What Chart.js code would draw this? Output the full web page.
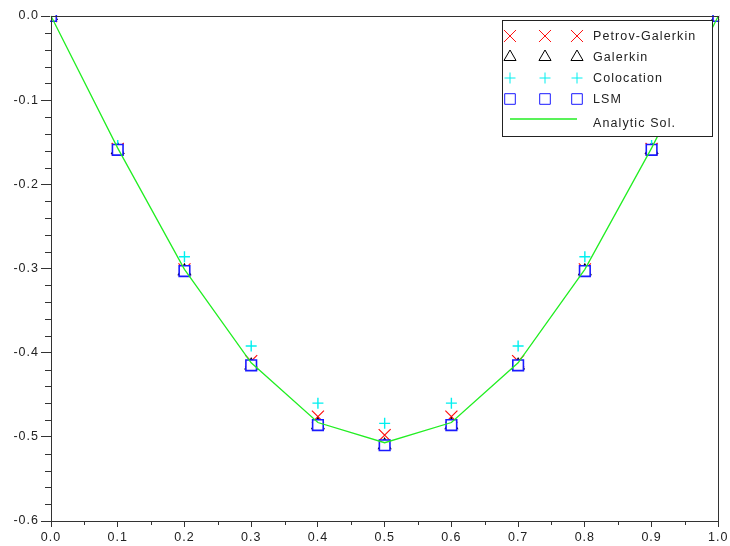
<!DOCTYPE html>
<html>
<head>
<meta charset="utf-8">
<script src="https://cdn.jsdelivr.net/npm/chart.js@4.4.1/dist/chart.umd.min.js"></script>
<style>
  html, body { margin: 0; padding: 0; background: #ffffff; }
  #wrap { width: 730px; height: 546px; }
</style>
</head>
<body>
<div id="wrap"><canvas id="c" width="730" height="546"></canvas></div>
<script>
// ---- data ----
const xValues = [0.0, 0.1, 0.2, 0.3, 0.4, 0.5, 0.6, 0.7, 0.8, 0.9, 1.0];
const petrovGalerkin = [0, -0.158, -0.301, -0.410, -0.476, -0.498, -0.476, -0.410, -0.301, -0.158, 0];
const galerkin       = [0, -0.159, -0.303, -0.415, -0.486, -0.510, -0.486, -0.415, -0.303, -0.159, 0];
const colocation     = [0, -0.154, -0.286, -0.392, -0.460, -0.484, -0.460, -0.392, -0.286, -0.154, 0];
const lsm            = [0, -0.159, -0.303, -0.415, -0.486, -0.510, -0.486, -0.415, -0.303, -0.159, 0];
const analytic       = [0, -0.157, -0.301, -0.412, -0.483, -0.507, -0.483, -0.412, -0.301, -0.157, 0];
const seriesLabels = ['Petrov-Galerkin', 'Galerkin', 'Colocation', 'LSM', 'Analytic Sol.'];
const xTickValues = [0.0, 0.1, 0.2, 0.3, 0.4, 0.5, 0.6, 0.7, 0.8, 0.9, 1.0];
const yTickValues = [0.0, -0.1, -0.2, -0.3, -0.4, -0.5, -0.6];

function pts(ys) { return xValues.map((x, i) => ({ x: x, y: ys[i] })); }

const AXIS = '#333333';
const FONT = '"Liberation Sans", Arial, sans-serif';

const spacing = {
  id: 'spacing',
  beforeDraw(chart) { try { chart.ctx.letterSpacing = '1px'; } catch (e) {} }
};

const frameAndMinor = {
  id: 'frameAndMinor',
  afterDraw(chart) {
    const ctx = chart.ctx, a = chart.chartArea;
    const xs = chart.scales.x, ys = chart.scales.y;
    ctx.save();
    ctx.strokeStyle = AXIS;
    ctx.lineWidth = 1;
    ctx.strokeRect(Math.round(a.left) + 0.5, Math.round(a.top) + 0.5,
                   Math.round(a.right - a.left), Math.round(a.bottom - a.top));
    ctx.beginPath();
    for (let i = 0; i < xTickValues.length - 1; i++) {
      const px = Math.round(xs.getPixelForValue((xTickValues[i] + xTickValues[i + 1]) / 2)) + 0.5;
      ctx.moveTo(px, a.bottom); ctx.lineTo(px, a.bottom + 4);
    }
    for (let i = 0; i < yTickValues.length - 1; i++) {
      for (let k = 1; k < 5; k++) {
        const v = yTickValues[i] + (yTickValues[i + 1] - yTickValues[i]) * k / 5;
        const py = Math.round(ys.getPixelForValue(v)) + 0.5;
        ctx.moveTo(a.left - 6, py); ctx.lineTo(a.left, py);
      }
    }
    ctx.stroke();

    // legend box (three marker samples per entry, as in the reference)
    const bx = 502, by = 20, bw = 210, bh = 116;
    ctx.fillStyle = '#ffffff';
    ctx.fillRect(bx, by, bw, bh);
    ctx.strokeStyle = '#222222';
    ctx.strokeRect(bx + 0.5, by + 0.5, bw, bh);
    const rows = [36, 57, 78, 99, 123];
    const sx = [510, 545, 577];
    ctx.font = '12.5px ' + FONT;
    try { ctx.letterSpacing = '1.1px'; } catch (e) {}
    ctx.textBaseline = 'middle';
    ctx.textAlign = 'left';
    chart.data.datasets.slice().sort((p, q) => q.order - p.order).forEach((ds, i) => {
      const y = rows[i];
      if (ds.showLine) {
        ctx.strokeStyle = ds.borderColor;
        ctx.lineWidth = 1.5;
        ctx.beginPath(); ctx.moveTo(510, y - 4); ctx.lineTo(577, y - 4); ctx.stroke();
      } else {
        sx.forEach(x => {
          ctx.strokeStyle = ds.borderColor;
          ctx.fillStyle = 'rgba(0,0,0,0)';
          Chart.helpers.drawPoint(ctx, {
            pointStyle: ds.pointStyle, radius: ds.pointRadius, rotation: 0,
            borderWidth: ds.borderWidth
          }, x, y);
        });
      }
      ctx.fillStyle = '#222222';
      ctx.fillText(ds.label, 593, y + 1);
    });
    ctx.restore();
  }
};

new Chart(document.getElementById('c'), {
  type: 'scatter',
  data: {
    datasets: [
      { label: seriesLabels[0], data: pts(petrovGalerkin), pointStyle: 'crossRot', pointRadius: 8.5,
        borderColor: '#ff1010', backgroundColor: 'rgba(0,0,0,0)', borderWidth: 1.2, order: 4, clip: 1 },
      { label: seriesLabels[1], data: pts(galerkin), pointStyle: 'triangle', pointRadius: 7,
        borderColor: '#000000', backgroundColor: 'rgba(0,0,0,0)', borderWidth: 1.2, order: 3, clip: 1 },
      { label: seriesLabels[2], data: pts(colocation), pointStyle: 'cross', pointRadius: 5.5,
        borderColor: '#00f0f0', backgroundColor: 'rgba(0,0,0,0)', borderWidth: 1.4, order: 2, clip: 1 },
      { label: seriesLabels[3], data: pts(lsm), pointStyle: 'rect', pointRadius: 7.5,
        borderColor: '#1a1aff', backgroundColor: '#ffffff', borderWidth: 1.6, order: 1, clip: 1 },
      { label: seriesLabels[4], data: pts(analytic), showLine: true, borderColor: '#22ee22',
        backgroundColor: '#22ee22', borderWidth: 1.3, pointRadius: 0, order: 0, clip: 1 }
    ]
  },
  options: {
    responsive: false,
    animation: false,
    devicePixelRatio: 1,
    layout: { padding: { top: 16, right: 11, left: 0, bottom: 0 } },
    plugins: { legend: { display: false }, tooltip: { enabled: false } },
    elements: { point: { hoverRadius: 0 } },
    scales: {
      x: {
        type: 'linear', min: 0, max: 1,
        afterFit(s) { s.height = 25; },
        afterBuildTicks(s) { s.ticks = xTickValues.map(v => ({ value: v })); },
        ticks: { callback: v => Number(v).toFixed(1), color: '#222222', padding: 3,
                 font: { family: FONT, size: 12.5 }, maxRotation: 0, autoSkip: false },
        grid: { drawOnChartArea: false, drawTicks: true, tickLength: 6, tickColor: AXIS, tickWidth: 1 },
        border: { display: true, color: AXIS, width: 1 }
      },
      y: {
        type: 'linear', min: -0.6, max: 0,
        afterFit(s) { s.width = 51; },
        afterBuildTicks(s) { s.ticks = yTickValues.map(v => ({ value: v })); },
        ticks: { callback: v => Number(v).toFixed(1), color: '#222222', padding: 2,
                 font: { family: FONT, size: 12.5 }, autoSkip: false },
        grid: { drawOnChartArea: false, drawTicks: true, tickLength: 10, tickColor: AXIS, tickWidth: 1 },
        border: { display: true, color: AXIS, width: 1 }
      }
    }
  },
  plugins: [spacing, frameAndMinor]
});
</script>
</body>
</html>
